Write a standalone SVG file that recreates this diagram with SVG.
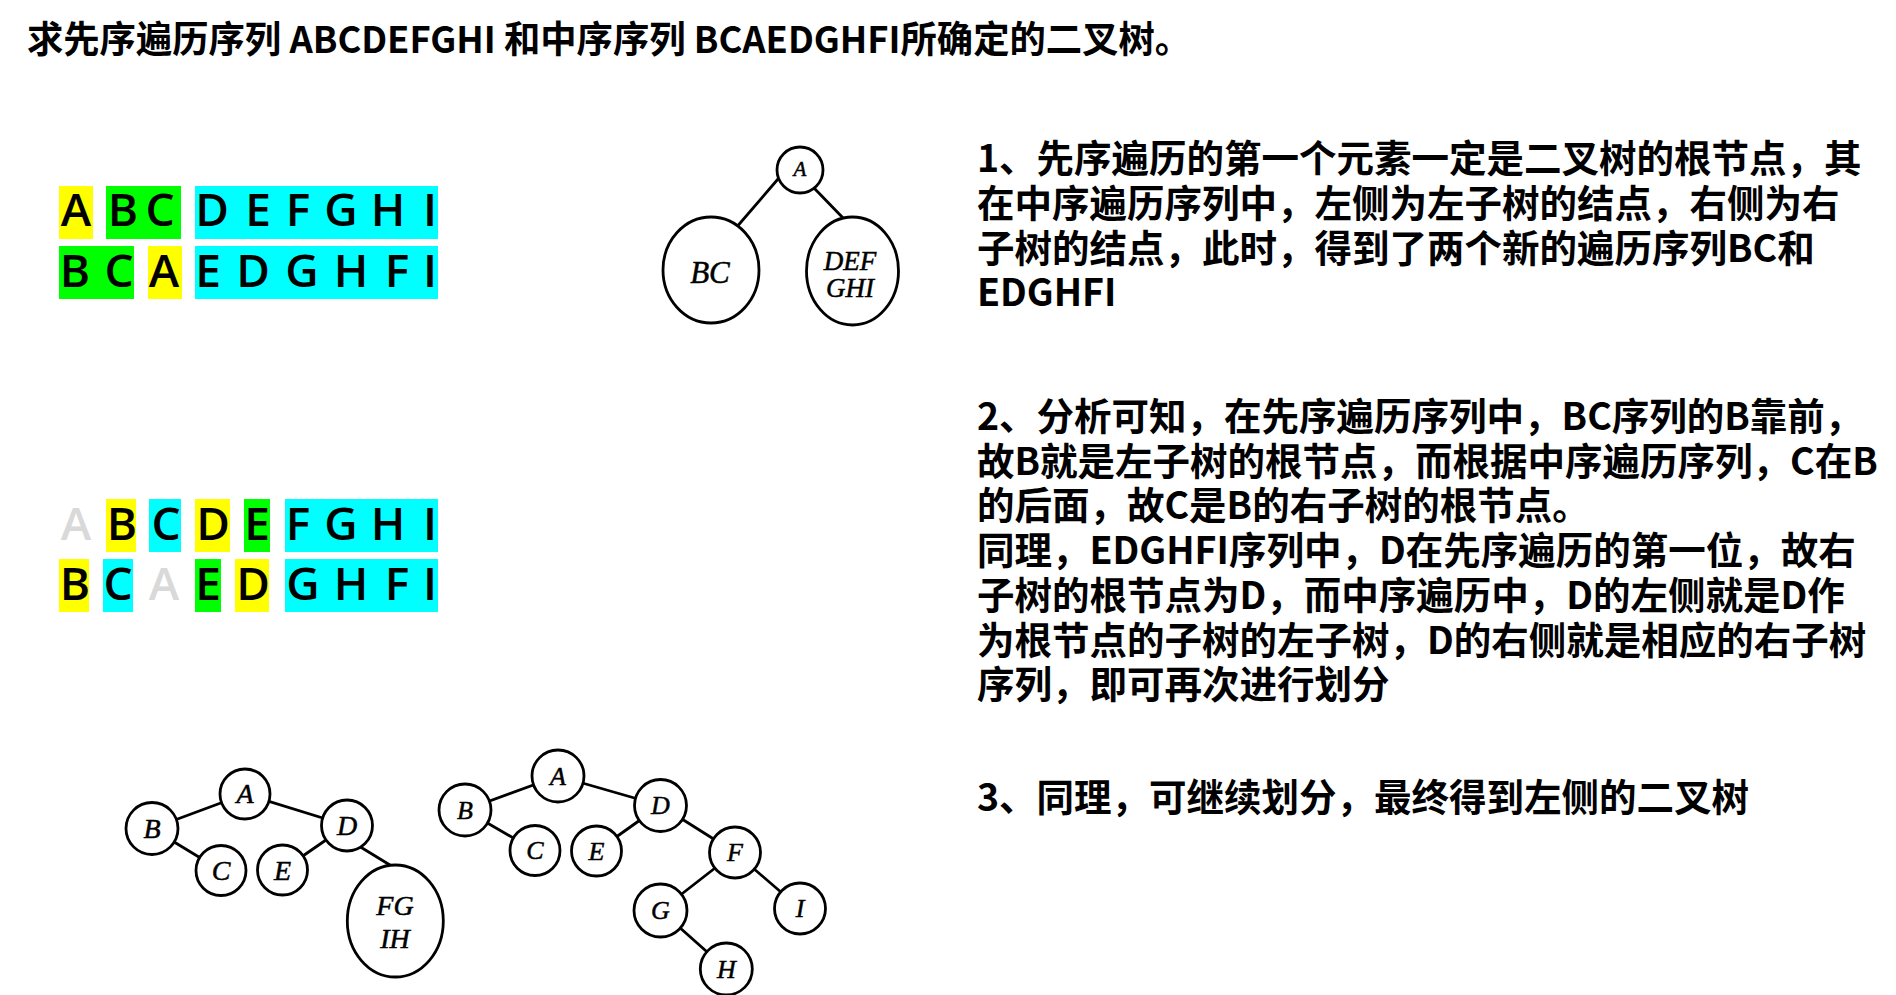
<svg xmlns="http://www.w3.org/2000/svg" width="1896" height="995" viewBox="0 0 1896 995">
<style>
.t{font-family:"Noto Sans CJK SC","Noto Sans",sans-serif;fill:#000;font-weight:bold}
.title{font-size:37px}
.p{font-size:37.5px}
.L{font-family:"Open Sans","Noto Sans",sans-serif;font-size:46px;font-weight:600;text-anchor:middle;fill:#000}
.g{fill:#d9d9d9}
.y{fill:#ffff00}
.gr{fill:#00ff00}
.c{fill:#00ffff}
.n{fill:#fff;stroke:#000;stroke-width:2.8}
.e{stroke:#000;stroke-width:2.8;fill:none;stroke-linecap:round}
.nl{font-family:"Liberation Serif","Times New Roman",serif;font-style:italic;text-anchor:middle;fill:#000;stroke:#000;stroke-width:0.5}
</style>
<rect width="1896" height="995" fill="#fff"/>
<text class="t title" x="27" y="53" textLength="1164" lengthAdjust="spacingAndGlyphs">求先序遍历序列 ABCDEFGHI 和中序序列 BCAEDGHFI所确定的二叉树。</text>

<g id="seq1">
<rect class="y" x="59" y="186" width="34" height="53"/>
<rect class="gr" x="106" y="186" width="75" height="53"/>
<rect class="c" x="195" y="186" width="243" height="53"/>
<rect class="gr" x="59" y="246" width="75" height="53"/>
<rect class="y" x="148" y="246" width="34" height="53"/>
<rect class="c" x="195" y="246" width="243" height="53"/>
<text class="L" x="76" y="226">A</text><text class="L" x="123" y="226">B</text><text class="L" x="160" y="226">C</text><text class="L" x="212" y="226">D</text><text class="L" x="258" y="226">E</text><text class="L" x="298" y="226">F</text><text class="L" x="341" y="226">G</text><text class="L" x="388" y="226">H</text><text class="L" x="430" y="226">I</text>
<text class="L" x="75" y="287">B</text><text class="L" x="119" y="287">C</text><text class="L" x="164" y="287">A</text><text class="L" x="208" y="287">E</text><text class="L" x="253" y="287">D</text><text class="L" x="302" y="287">G</text><text class="L" x="351" y="287">H</text><text class="L" x="397" y="287">F</text><text class="L" x="430" y="287">I</text>
</g>

<g id="seq2">
<rect class="y" x="106" y="499" width="30" height="53"/>
<rect class="c" x="149" y="499" width="32" height="53"/>
<rect class="y" x="195" y="499" width="35" height="53"/>
<rect class="gr" x="244" y="499" width="26" height="53"/>
<rect class="c" x="285" y="499" width="153" height="53"/>
<rect class="y" x="59" y="559" width="30" height="53"/>
<rect class="c" x="103" y="559" width="30" height="53"/>
<rect class="gr" x="195" y="559" width="26" height="53"/>
<rect class="y" x="235" y="559" width="34" height="53"/>
<rect class="c" x="285" y="559" width="153" height="53"/>
<text class="L g" x="76" y="540">A</text><text class="L" x="122" y="540">B</text><text class="L" x="166" y="540">C</text><text class="L" x="213" y="540">D</text><text class="L" x="257" y="540">E</text><text class="L" x="298" y="540">F</text><text class="L" x="341" y="540">G</text><text class="L" x="388" y="540">H</text><text class="L" x="430" y="540">I</text>
<text class="L" x="75" y="600">B</text><text class="L" x="118" y="600">C</text><text class="L g" x="164" y="600">A</text><text class="L" x="208" y="600">E</text><text class="L" x="253" y="600">D</text><text class="L" x="303" y="600">G</text><text class="L" x="351" y="600">H</text><text class="L" x="397" y="600">F</text><text class="L" x="430" y="600">I</text>
</g>

<g id="connectors">
<line class="e" x1="778" y1="179" x2="735" y2="229"/>
<line class="e" x1="814" y1="188" x2="845" y2="220"/>
<line class="e" x1="245" y1="794" x2="152" y2="828.5"/>
<line class="e" x1="245" y1="794" x2="347" y2="825.5"/>
<line class="e" x1="152" y1="828.5" x2="221" y2="870.5"/>
<line class="e" x1="347" y1="825.5" x2="282.5" y2="870"/>
<line class="e" x1="358" y1="845.5" x2="394" y2="867.5"/>
<line class="e" x1="558" y1="776" x2="465" y2="810"/>
<line class="e" x1="558" y1="776" x2="660.5" y2="805.5"/>
<line class="e" x1="465" y1="810" x2="535" y2="850.5"/>
<line class="e" x1="660.5" y1="805.5" x2="596.5" y2="851"/>
<line class="e" x1="660.5" y1="805.5" x2="735" y2="852.5"/>
<line class="e" x1="735" y1="852.5" x2="660.5" y2="910.5"/>
<line class="e" x1="735" y1="852.5" x2="800" y2="908.5"/>
<line class="e" x1="660.5" y1="910.5" x2="726.3" y2="969"/>
</g>

<g id="t1-A"><circle class="n" cx="800" cy="170" r="23"/><text class="nl" x="800" y="176" font-size="21">A</text></g>
<g id="t1-BC"><ellipse class="n" cx="711" cy="270" rx="48" ry="53"/><text class="nl" x="710" y="283" font-size="31">BC</text></g>
<g id="t1-DEF"><ellipse class="n" cx="852.5" cy="271" rx="46" ry="54"/><text class="nl" x="850" y="270" font-size="27">DEF</text><text class="nl" x="850" y="297" font-size="27">GHI</text></g>

<g id="t2-A"><circle class="n" cx="245" cy="794" r="25"/><text class="nl" x="245" y="803" font-size="28">A</text></g>
<g id="t2-B"><circle class="n" cx="152" cy="828.5" r="26"/><text class="nl" x="152" y="838" font-size="28">B</text></g>
<g id="t2-C"><circle class="n" cx="221" cy="870.5" r="25"/><text class="nl" x="221" y="880" font-size="28">C</text></g>
<g id="t2-E"><circle class="n" cx="282.5" cy="870" r="25"/><text class="nl" x="282.5" y="879.5" font-size="28">E</text></g>
<g id="t2-D"><circle class="n" cx="347" cy="825.5" r="25.5"/><text class="nl" x="347" y="835" font-size="28">D</text></g>
<g id="t2-FG"><ellipse class="n" cx="395.3" cy="921" rx="48" ry="56"/><text class="nl" x="395" y="915" font-size="28">FG</text><text class="nl" x="395" y="948" font-size="28">IH</text></g>

<g id="t3-A"><circle class="n" cx="558" cy="776" r="26"/><text class="nl" x="558" y="784.5" font-size="26">A</text></g>
<g id="t3-B"><circle class="n" cx="465" cy="810" r="26"/><text class="nl" x="465" y="818.5" font-size="26">B</text></g>
<g id="t3-C"><circle class="n" cx="535" cy="850.5" r="25"/><text class="nl" x="535" y="859" font-size="26">C</text></g>
<g id="t3-E"><circle class="n" cx="596.5" cy="851" r="25"/><text class="nl" x="596.5" y="859.5" font-size="26">E</text></g>
<g id="t3-D"><circle class="n" cx="660.5" cy="805.5" r="26"/><text class="nl" x="660.5" y="814" font-size="26">D</text></g>
<g id="t3-F"><circle class="n" cx="735" cy="852.5" r="25.5"/><text class="nl" x="735" y="861" font-size="26">F</text></g>
<g id="t3-G"><circle class="n" cx="660.5" cy="910.5" r="26.5"/><text class="nl" x="660.5" y="919" font-size="26">G</text></g>
<g id="t3-I"><circle class="n" cx="800" cy="908.5" r="25.5"/><text class="nl" x="800" y="917" font-size="26">I</text></g>
<g id="t3-H"><circle class="n" cx="726.3" cy="969" r="26"/><text class="nl" x="726.3" y="977.5" font-size="26">H</text></g>

<g id="para1" class="t p">
<text x="977" y="172">1、先序遍历的第一个元素一定是二叉树的根节点，其</text>
<text x="977" y="217">在中序遍历序列中，左侧为左子树的结点，右侧为右</text>
<text x="977" y="262">子树的结点，此时，得到了两个新的遍历序列BC和</text>
<text x="977" y="306">EDGHFI</text>
</g>
<g id="para2" class="t p">
<text x="977" y="430">2、分析可知，在先序遍历序列中，BC序列的B靠前，</text>
<text x="977" y="475">故B就是左子树的根节点，而根据中序遍历序列，C在B</text>
<text x="977" y="519">的后面，故C是B的右子树的根节点。</text>
<text x="977" y="564">同理，EDGHFI序列中，D在先序遍历的第一位，故右</text>
<text x="977" y="609">子树的根节点为D，而中序遍历中，D的左侧就是D作</text>
<text x="977" y="654">为根节点的子树的左子树，D的右侧就是相应的右子树</text>
<text x="977" y="698">序列，即可再次进行划分</text>
</g>
<g id="para3" class="t p">
<text x="977" y="811">3、同理，可继续划分，最终得到左侧的二叉树</text>
</g>
</svg>
